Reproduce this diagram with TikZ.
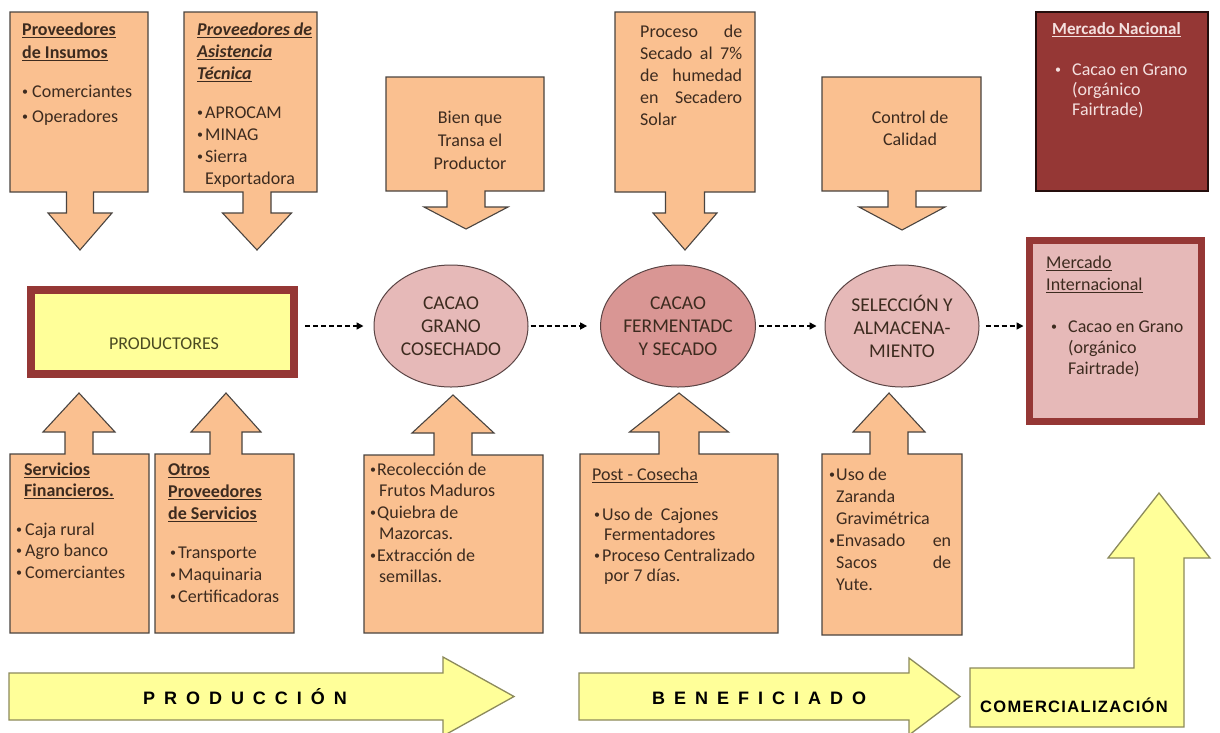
\documentclass[tikz,border=0pt]{standalone}
\usepackage{fontspec}
\setmainfont{Carlito}
\newfontfamily\bannerfont[LetterSpace=50]{Liberation Sans}
\newfontfamily\comfont[LetterSpace=8]{Liberation Sans}
\usetikzlibrary{shapes.geometric,arrows.meta}

\definecolor{calloutfill}{HTML}{FAC090}
\definecolor{calloutline}{HTML}{4A4440}
\definecolor{inktext}{HTML}{3D2B1F}
\definecolor{bannerfill}{HTML}{FFFF99}
\definecolor{bannerline}{HTML}{8C8A5C}
\definecolor{rosefill}{HTML}{E6B9B8}
\definecolor{rosedeep}{HTML}{D99694}
\definecolor{stageline}{HTML}{5A4444}
\definecolor{wineframe}{HTML}{953735}
\definecolor{winefill}{HTML}{953735}
\definecolor{paletext}{HTML}{F4E0DF}
\definecolor{olivetext}{HTML}{4B4B22}

% box with an arrow: box x1..x2 between edge y1 (far) and y2 (arrow side),
% stem half-width, wing half-width, wing line and tip
\newcommand\calloutpath[9]{%
  \path[callout] (#1,#2) -- (#3,#2) -- (#3,#4) -- ({#5+#6},#4) -- ({#5+#6},#8)
    -- ({#5+#7},#8) -- (#5,#9) -- ({#5-#7},#8) -- ({#5-#6},#8) -- ({#5-#6},#4)
    -- (#1,#4) -- cycle;}
% small list bullet in a box of the given width
\newcommand\blt[1]{\makebox[#1pt][l]{\raisebox{1.6pt}{\fontsize{12}{12}\selectfont\textbullet}}}
% underlined heading text, rule close under the baseline
\newcommand\ulined[1]{\setbox0\hbox{#1}\rlap{\rule[-2.6pt]{\wd0}{0.9pt}}\box0}
% stacked lines whose baseline is the first line
\newcommand\leftlines[1]{\begin{tabular}[t]{@{}l@{}}#1\end{tabular}}
\newcommand\midlines[1]{\begin{tabular}[t]{@{}c@{}}#1\end{tabular}}

\tikzset{
  callout/.style={fill=calloutfill, draw=calloutline, line width=1.1pt, line join=miter},
  note/.style={inner sep=0pt, anchor=base west, text=inktext},
  centred/.style={inner sep=0pt, anchor=base, text=inktext},
  stage/.style={ellipse, draw=stageline, line width=1pt, inner sep=0pt,
    minimum width=154pt, minimum height=122pt, align=center, text=inktext,
    font=\fontsize{19.5}{23}\selectfont},
  flow/.style={-{Triangle[length=7pt,width=7pt]}, line width=1.5pt,
    dash pattern=on 5pt off 3pt, black},
  banner/.style={fill=bannerfill, draw=bannerline, line width=1.3pt, line join=miter},
  bannerlabel/.style={inner sep=0pt, anchor=base, text=black,
    font=\bannerfont\bfseries\fontsize{18}{20}\selectfont},
}

\begin{document}
\begin{tikzpicture}[x=1pt,y=-1pt]
\path[use as bounding box] (0,0) rectangle (1220,732);
\clip (0,0) rectangle (1220,732);
\fill[white] (0,0) rectangle (1220,732);

% ---- suppliers and processes above the chain
\calloutpath{10}{12}{148}{192}{80}{13.5}{32}{213}{250}
\calloutpath{184}{12}{317}{192}{257}{14}{34.5}{213}{250}
\calloutpath{386}{77}{544}{191}{466}{19}{42}{207}{229}
\calloutpath{615}{12}{755}{192}{685}{19.5}{32}{213}{250}
\calloutpath{822}{77}{981}{191}{902}{14}{43}{207}{230}

\node[note, font=\fontsize{18}{23}\selectfont] (insumos) at (22,35)
  {\leftlines{\ulined{\textbf{Proveedores}}\\\ulined{\textbf{de Insumos}}\\[16pt]
   \blt{10}Comerciantes\\[2pt]\blt{10}Operadores}};
\node[note, font=\fontsize{18}{22}\selectfont] (asistencia) at (197,35)
  {\leftlines{\ulined{\textbf{\textit{Proveedores de}}}\\\ulined{\textbf{\textit{Asistencia}}}\\
   \ulined{\textbf{\textit{Técnica}}}\\[17pt]
   \blt{8}APROCAM\\\blt{8}MINAG\\\blt{8}Sierra\\\hspace*{8pt}Exportadora}};
\node[centred, font=\fontsize{18}{23}\selectfont] (transa) at (470,123)
  {\midlines{Bien que\\Transa el\\Productor}};
\node[note, font=\fontsize{18}{22}\selectfont] (secado) at (640,37)
  {\leftlines{\makebox[102pt][s]{Proceso de}\\\makebox[102pt][s]{Secado al 7\%}\\
   \makebox[102pt][s]{de humedad}\\\makebox[102pt][s]{en Secadero}\\Solar}};
\node[centred, font=\fontsize{18}{22}\selectfont] (calidad) at (910,123)
  {\midlines{Control de\\Calidad}};

% ---- national market
\node[draw=black!75!wineframe, fill=winefill, line width=1.2pt, minimum width=172pt,
  minimum height=179pt, inner sep=0pt] (nacional) at (1122,101.5) {};
\node[note, text=paletext, font=\fontsize{18}{20}\selectfont] (nacionaltext) at (1052,34)
  {\leftlines{{\fontsize{17}{20}\selectfont\ulined{\textbf{Mercado Nacional}}}\\[21pt]
   \hspace*{3pt}\blt{17}Cacao en Grano\\
   \hspace*{20pt}(orgánico\\\hspace*{20pt}Fairtrade)}};

% ---- main chain
\node[draw=wineframe, fill=bannerfill, line width=8pt, minimum width=263pt,
  minimum height=84pt, inner sep=0pt] (prod) at (162.5,332) {};
\node[inner sep=0pt, anchor=base, text=olivetext, font=\fontsize{18}{22}\selectfont]
  (prodlabel) at (164,349) {PRODUCTORES};

\node[stage, fill=rosefill] (c1) at (451,326) {CACAO\\GRANO\\COSECHADO};
\node[stage, fill=rosedeep, minimum width=152pt] (c2) at (678,326) {CACAO\\FERMENTADC\\Y SECADO};
\node[stage, fill=rosefill] (c3) at (902,326) {SELECCIÓN Y\\ALMACENA-\\MIENTO};

\node[draw=wineframe, fill=rosefill, line width=7pt, minimum width=172pt,
  minimum height=181pt, inner sep=0pt] (inter) at (1115.5,331) {};
\node[note, font=\fontsize{18}{22}\selectfont] (intertext) at (1046,268)
  {\leftlines{\ulined{Mercado}\\\ulined{Internacional}\\[20pt]
   \hspace*{5pt}\blt{17}Cacao en Grano\\[-1pt]\hspace*{22pt}(orgánico\\[-1pt]
   \hspace*{22pt}Fairtrade)}};

\draw[flow, shorten <=7pt, shorten >=10pt] (prod.east |- c1.center) -- (c1);
\draw[flow, shorten <=2pt, shorten >=13pt] (c1) -- (c2);
\draw[flow, shorten <=3pt, shorten >=8pt] (c2) -- (c3);
\draw[flow, shorten <=6pt, shorten >=2.5pt] (c3) -- (c3 -| inter.west);

% ---- services and activities below the chain
\calloutpath{10}{633}{149}{454}{79}{14}{36}{432}{393}
\calloutpath{155}{633}{294}{454}{226}{16}{35}{432}{393}
\calloutpath{364}{633}{543}{455}{453}{19}{41}{433}{395}
\calloutpath{580}{633}{778}{454}{679}{20}{49.5}{432}{393}
\calloutpath{822}{635}{962}{454}{889}{19}{36}{432}{393}

\node[note, font=\fontsize{18}{21.5}\selectfont] (financieros) at (16,475)
  {\leftlines{\hspace*{8pt}\ulined{\textbf{Servicios}}\\\hspace*{8pt}\ulined{\textbf{Financieros.}}\\[17pt]
   \blt{9}Caja rural\\\blt{9}Agro banco\\\blt{9}Comerciantes}};
\node[note, font=\fontsize{18}{22}\selectfont] (servicios) at (168,475)
  {\leftlines{\ulined{\textbf{Otros}}\\\ulined{\textbf{Proveedores}}\\\ulined{\textbf{de Servicios}}\\[17pt]
   \hspace*{2pt}\blt{8}Transporte\\\hspace*{2pt}\blt{8}Maquinaria\\\hspace*{2pt}\blt{8}Certificadoras}};
\node[note, font=\fontsize{18}{21.5}\selectfont] (cosecha) at (370,475)
  {\leftlines{\blt{7}Recolección de\\\hspace*{9pt}Frutos Maduros\\\blt{7}Quiebra de\\
   \hspace*{9pt}Mazorcas.\\\blt{7}Extracción de\\\hspace*{9pt}semillas.}};
\node[note, font=\fontsize{18}{20.5}\selectfont] (postcosecha) at (592,480)
  {\leftlines{\ulined{Post - Cosecha}\\[19.5pt]\hspace*{2pt}\blt{8}Uso de\ \ Cajones\\
   \hspace*{12pt}Fermentadores\\\hspace*{2pt}\blt{8}Proceso Centralizado\\
   \hspace*{12pt}por 7 días.}};
\node[note, font=\fontsize{18}{22}\selectfont] (zaranda) at (829,480)
  {\leftlines{\blt{7}Uso de\\\hspace*{7pt}Zaranda\\\hspace*{7pt}Gravimétrica\\
   \blt{7}\makebox[115pt][s]{Envasado en}\\\hspace*{7pt}\makebox[115pt][s]{Sacos de}\\
   \hspace*{7pt}Yute.}};

% ---- stage banners
\path[banner] (9,673) -- (443,673) -- (443,657) -- (514,696.5) -- (443,736)
  -- (443,720) -- (9,720) -- cycle;
\path[banner] (579,673) -- (909,673) -- (909,658) -- (960,696.5) -- (909,735)
  -- (909,720) -- (579,720) -- cycle;
\path[banner] (970,668) -- (1134,668) -- (1134,558) -- (1108,558) -- (1159,493)
  -- (1210,558) -- (1184,558) -- (1184,727) -- (970,727) -- cycle;

\node[bannerlabel] (produccion) at (245,704) {PRODUCCIÓN};
\node[bannerlabel] (beneficiado) at (759,704) {BENEFICIADO};
\node[inner sep=0pt, anchor=base, text=black,
  font=\comfont\bfseries\fontsize{16.5}{18}\selectfont] (comercial) at (1074,712)
  {COMERCIALIZACIÓN};
\end{tikzpicture}
\end{document}
